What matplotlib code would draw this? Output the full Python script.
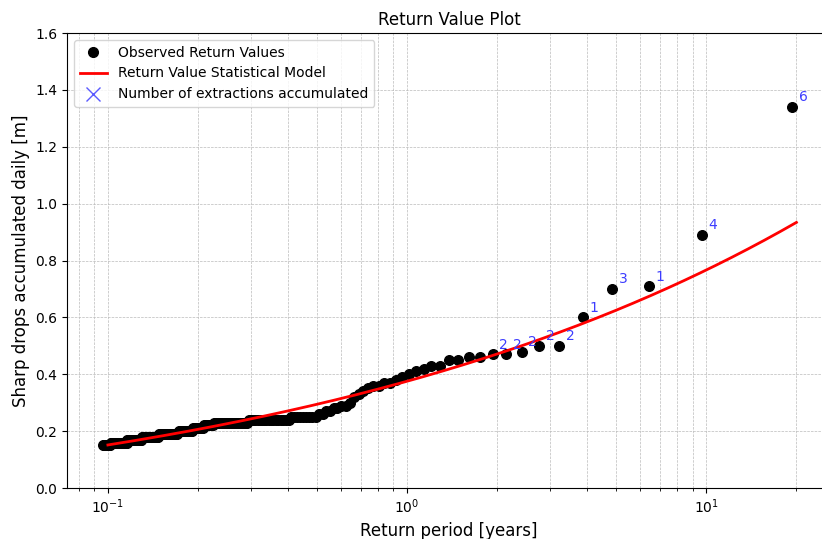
import numpy as np
import matplotlib
matplotlib.use("Agg")
import matplotlib.pyplot as plt
from matplotlib.lines import Line2D

# Observed daily sharp drops [m], sorted from largest to smallest
observed = [
    1.34, 0.89, 0.71, 0.70, 0.60, 0.50, 0.50, 0.48, 0.47, 0.47,
    0.46, 0.46, 0.45, 0.45, 0.43, 0.43, 0.42, 0.41, 0.40, 0.39,
    0.38, 0.37, 0.37, 0.36, 0.36, 0.35, 0.34, 0.33, 0.32, 0.30,
    0.29, 0.29, 0.28, 0.28, 0.27, 0.27, 0.26, 0.26,
    0.25, 0.25, 0.25, 0.25, 0.25, 0.25, 0.25, 0.25, 0.25,
    0.24, 0.24, 0.24, 0.24, 0.24, 0.24, 0.24, 0.24, 0.24,
    0.24, 0.24, 0.24, 0.24, 0.24, 0.24, 0.24, 0.24, 0.24,
    0.23, 0.23, 0.23, 0.23, 0.23, 0.23, 0.23, 0.23, 0.23, 0.23,
    0.23, 0.23, 0.23, 0.23, 0.23, 0.23, 0.23, 0.23, 0.23, 0.23,
    0.22, 0.22, 0.22, 0.22, 0.22, 0.22, 0.22,
    0.21, 0.21, 0.21, 0.21, 0.21, 0.21, 0.21, 0.21,
    0.20, 0.20, 0.20, 0.20, 0.20, 0.20, 0.20, 0.20, 0.20, 0.20, 0.20, 0.20,
    0.19, 0.19, 0.19, 0.19, 0.19, 0.19, 0.19, 0.19, 0.19,
    0.19, 0.19, 0.19, 0.19, 0.19, 0.19, 0.19, 0.19, 0.19,
    0.18, 0.18, 0.18, 0.18, 0.18, 0.18, 0.18, 0.18, 0.18,
    0.18, 0.18, 0.18, 0.18, 0.18, 0.18, 0.18, 0.18, 0.18,
    0.17, 0.17, 0.17, 0.17, 0.17, 0.17, 0.17, 0.17, 0.17,
    0.17, 0.17, 0.17, 0.17, 0.17, 0.17, 0.17, 0.17, 0.17,
    0.16, 0.16, 0.16, 0.16, 0.16, 0.16, 0.16, 0.16, 0.16, 0.16, 0.16, 0.16,
    0.16, 0.16, 0.16, 0.16, 0.16, 0.16, 0.16, 0.16, 0.16, 0.16, 0.16,
    0.15, 0.15, 0.15, 0.15, 0.15, 0.15, 0.15, 0.15, 0.15, 0.15, 0.15,
]

# Number of extractions accumulated for the ten largest events
extractions = [6, 4, 1, 3, 1, 2, 2, 2, 2, 2]

# Record length and fitted GPD parameters of the return-value model
record_years = 19.2
gpd_threshold = 0.1484
gpd_scale = 0.0720
gpd_shape = 0.242

n = len(observed)
rate = n / record_years  # exceedances per year
rank = np.arange(1, n + 1)
return_period = (n + 1) / (rank * rate)

T_model = np.logspace(-1, np.log10(20), 300)
model = gpd_threshold + gpd_scale / gpd_shape * ((rate * T_model) ** gpd_shape - 1)

fig = plt.figure(figsize=(8.22, 5.39), dpi=100)
ax = fig.add_axes([67 / 822, 51 / 539, 764 / 822, 455 / 539])

ax.scatter(return_period, observed, s=48, color="black", zorder=2,
           label="Observed Return Values")
ax.plot(T_model, model, color="red", lw=2, zorder=3,
        label="Return Value Statistical Model")

for T, v, c in zip(return_period[:len(extractions)], observed[:len(extractions)], extractions):
    ax.annotate(str(c), (T, v), xytext=(5, 4), textcoords="offset points",
                color="#3c3cff", fontsize=10)

ax.set_xscale("log")
ax.set_xlim(0.073, 26.1)
ax.set_ylim(0, 1.6)
ax.grid(True, which="both", ls="--", lw=0.5, color="#bbbbbb")

ax.set_title("Return Value Plot", fontsize=12)
ax.set_xlabel("Return period [years]", fontsize=12)
ax.set_ylabel("Sharp drops accumulated daily [m]", fontsize=12)

handles = [
    Line2D([], [], marker="o", color="black", ls="none", markersize=7),
    Line2D([], [], color="red", lw=2),
    Line2D([], [], marker="x", color="#5a5aff", ls="none", markersize=10,
           markeredgewidth=1.0),
]
labels = ["Observed Return Values", "Return Value Statistical Model",
          "Number of extractions accumulated"]
ax.legend(handles, labels, loc="upper left", fontsize=10)

fig.savefig("out.png", dpi=100)
